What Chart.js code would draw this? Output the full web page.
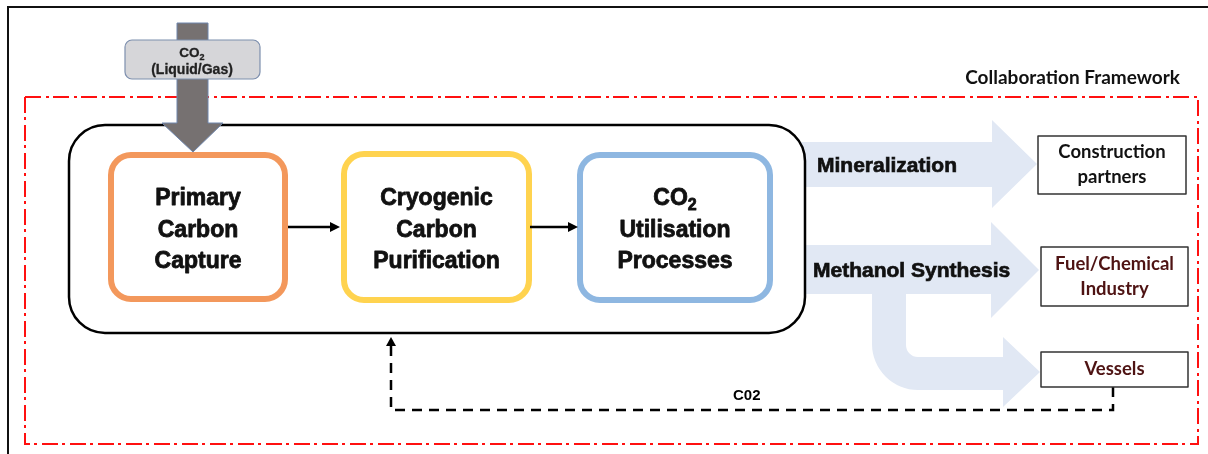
<!DOCTYPE html>
<html>
<head>
<meta charset="utf-8">
<script src="https://cdn.jsdelivr.net/npm/chart.js@4"></script>
<style>
  html, body { margin: 0; padding: 0; background: #fff; }
  #wrap { width: 1208px; height: 454px; }
</style>
</head>
<body>
<div id="wrap"><canvas id="diagram" width="1208" height="454"></canvas></div>
<script>
/* DATOS DEL DIAGRAMA */
const inputLabel = ['CO₂', '(Liquid/Gas)'];
const processSteps = [
  ['Primary', 'Carbon', 'Capture'],
  ['Cryogenic', 'Carbon', 'Purification'],
  ['CO₂', 'Utilisation', 'Processes'],
];
const routes = ['Mineralization', 'Methanol Synthesis'];
const partners = [
  ['Construction', 'partners'],
  ['Fuel/Chemical', 'Industry'],
  ['Vessels'],
];
const frameworkLabel = 'Collaboration Framework';
const returnLabel = 'C02';

/* GEOMETRIA (unidades de los ejes) */
const frameCorners = [[25, 97], [1198, 97], [1198, 444], [25, 444], [25, 97]];
const returnPath = [[1113, 387], [1113, 410], [391, 410], [391, 344]];
const stepBoxes = [[111, 155, 285, 299], [344, 154, 529, 300], [580, 155, 770, 300]];
const partnerBoxes = [[1038, 136, 1186, 194], [1041, 247, 1188, 306], [1041, 352, 1188, 387]];

/* ESTILOS */
const stepColors = ['#F3985C', '#FFD34F', '#8EB7E1'];
const partnerTextColors = ['#111111', '#4E1313', '#4E1313'];
const routeFill = '#E1E8F4';
const BOLD = '"Liberation Sans", Arial, sans-serif';
const CAL = 'Lato, "Open Sans", sans-serif';

/* TEXTO CON SUBINDICE (con trazo extra para simular letra pesada) */
function drawRich(ctx, str, cx, y, size, family, color, heavy = 0) {
  ctx.fillStyle = color;
  ctx.strokeStyle = color;
  ctx.lineWidth = heavy;
  ctx.lineJoin = 'round';
  ctx.textBaseline = 'alphabetic';
  const put = (t, x, yy) => {
    ctx.fillText(t, x, yy);
    if (heavy) ctx.strokeText(t, x, yy);
  };
  const parts = str.split('₂');
  ctx.font = `bold ${size}px ${family}`;
  if (parts.length === 1) {
    ctx.textAlign = 'center';
    put(str, cx, y);
    return;
  }
  ctx.textAlign = 'left';
  const subSize = Math.round(size * 0.68);
  const wBase = ctx.measureText(parts[0]).width;
  ctx.font = `bold ${subSize}px ${family}`;
  const wSub = ctx.measureText('2').width;
  const x = cx - (wBase + wSub) / 2;
  ctx.font = `bold ${size}px ${family}`;
  put(parts[0], x, y);
  ctx.font = `bold ${subSize}px ${family}`;
  put('2', x + wBase, y + size * 0.2);
}

function roundRect(ctx, x0, y0, x1, y1, r) {
  ctx.beginPath();
  ctx.moveTo(x0 + r, y0);
  ctx.arcTo(x1, y0, x1, y1, r);
  ctx.arcTo(x1, y1, x0, y1, r);
  ctx.arcTo(x0, y1, x0, y0, r);
  ctx.arcTo(x0, y0, x1, y0, r);
  ctx.closePath();
}

/* PLUGIN: fondo (marco y flechas de rutas) y elementos del diagrama */
const diagramPlugin = {
  id: 'diagram',
  beforeDatasetsDraw(chart) {
    const { ctx } = chart;
    const X = v => chart.scales.x.getPixelForValue(v);
    const Y = v => chart.scales.y.getPixelForValue(v);
    ctx.save();

    /* Marco exterior */
    ctx.strokeStyle = '#111';
    ctx.lineWidth = 2;
    ctx.beginPath();
    ctx.moveTo(X(8), Y(454));
    ctx.lineTo(X(8), Y(7));
    ctx.lineTo(X(1208), Y(7));
    ctx.stroke();

    /* Flechas de rutas */
    ctx.fillStyle = routeFill;
    [[142, 187, 120, 208, 992, 1037], [245, 294, 222, 318, 991, 1039]].forEach(a => {
      const [sTop, sBot, hTop, hBot, hx, tip] = a;
      ctx.beginPath();
      ctx.moveTo(X(800), Y(sTop));
      ctx.lineTo(X(hx), Y(sTop));
      ctx.lineTo(X(hx), Y(hTop));
      ctx.lineTo(X(tip), Y((hTop + hBot) / 2));
      ctx.lineTo(X(hx), Y(hBot));
      ctx.lineTo(X(hx), Y(sBot));
      ctx.lineTo(X(800), Y(sBot));
      ctx.closePath();
      ctx.fill();
    });

    /* Flecha curva hacia Vessels */
    ctx.beginPath();
    ctx.moveTo(X(872), Y(290));
    ctx.arcTo(X(872), Y(390), X(918), Y(390), 46);
    ctx.lineTo(X(1003), Y(390));
    ctx.lineTo(X(1003), Y(407));
    ctx.lineTo(X(1040), Y(372));
    ctx.lineTo(X(1003), Y(337));
    ctx.lineTo(X(1003), Y(357));
    ctx.arcTo(X(906), Y(357), X(906), Y(345), 12);
    ctx.lineTo(X(906), Y(290));
    ctx.closePath();
    ctx.fill();

    ctx.restore();
  },

  afterDatasetsDraw(chart) {
    const { ctx } = chart;
    const X = v => chart.scales.x.getPixelForValue(v);
    const Y = v => chart.scales.y.getPixelForValue(v);
    ctx.save();

    /* Etiquetas de rutas */
    ctx.textBaseline = 'alphabetic';
    [[routes[0], 817, 172], [routes[1], 813, 277]].forEach(([t, x, y]) => {
      ctx.font = `bold 21px ${BOLD}`;
      ctx.textAlign = 'left';
      ctx.fillStyle = '#111';
      ctx.strokeStyle = '#111';
      ctx.lineWidth = 0.7;
      ctx.fillText(t, X(x), Y(y));
      ctx.strokeText(t, X(x), Y(y));
    });

    /* Contenedor principal */
    roundRect(ctx, X(69), Y(125), X(805), Y(333), 36);
    ctx.fillStyle = '#fff';
    ctx.fill();
    ctx.strokeStyle = '#000';
    ctx.lineWidth = 2.5;
    ctx.stroke();

    /* Cajas de proceso */
    processSteps.forEach((lines, i) => {
      const [x0, y0, x1, y1] = stepBoxes[i];
      roundRect(ctx, X(x0), Y(y0), X(x1), Y(y1), 20);
      ctx.strokeStyle = stepColors[i];
      ctx.lineWidth = 6;
      ctx.stroke();
      const cx = X((x0 + x1) / 2);
      lines.forEach((t, j) => drawRich(ctx, t, cx, Y(205 + j * 31.5), 23, BOLD, '#111', 0.8));
    });

    /* Flechas entre procesos */
    ctx.strokeStyle = '#000';
    ctx.fillStyle = '#000';
    ctx.lineWidth = 2.5;
    [[288, 340], [530, 578]].forEach(([a, b]) => {
      ctx.beginPath();
      ctx.moveTo(X(a), Y(227));
      ctx.lineTo(X(b - 8), Y(227));
      ctx.stroke();
      ctx.beginPath();
      ctx.moveTo(X(b), Y(227));
      ctx.lineTo(X(b - 10), Y(222));
      ctx.lineTo(X(b - 10), Y(232));
      ctx.closePath();
      ctx.fill();
    });

    /* Flecha de entrada de CO2 */
    ctx.beginPath();
    ctx.moveTo(X(177), Y(23));
    ctx.lineTo(X(208), Y(23));
    ctx.lineTo(X(208), Y(123));
    ctx.lineTo(X(223), Y(123));
    ctx.lineTo(X(193), Y(152));
    ctx.lineTo(X(162), Y(123));
    ctx.lineTo(X(177), Y(123));
    ctx.closePath();
    ctx.fillStyle = '#767171';
    ctx.fill();
    ctx.strokeStyle = '#6F86AD';
    ctx.lineWidth = 1;
    ctx.stroke();

    roundRect(ctx, X(125), Y(40), X(260), Y(79), 7);
    ctx.fillStyle = '#D6D6D9';
    ctx.fill();
    ctx.strokeStyle = '#7D8FAE';
    ctx.lineWidth = 1.2;
    ctx.stroke();
    drawRich(ctx, inputLabel[0], X(192), Y(57), 13.5, BOLD, '#222', 0.3);
    drawRich(ctx, inputLabel[1], X(192), Y(74), 14, BOLD, '#222', 0.3);

    /* Cajas de socios */
    partners.forEach((lines, i) => {
      const [x0, y0, x1, y1] = partnerBoxes[i];
      ctx.fillStyle = '#fff';
      ctx.fillRect(X(x0), Y(y0), X(x1) - X(x0), Y(y1) - Y(y0));
      ctx.strokeStyle = '#333';
      ctx.lineWidth = 1.5;
      ctx.strokeRect(X(x0), Y(y0), X(x1) - X(x0), Y(y1) - Y(y0));
      const cx = X((x0 + x1) / 2);
      const cy = (y0 + y1) / 2;
      ctx.font = `bold 18.5px ${CAL}`;
      ctx.fillStyle = partnerTextColors[i];
      ctx.textAlign = 'center';
      ctx.textBaseline = 'middle';
      lines.forEach((t, j) => {
        const off = (j - (lines.length - 1) / 2) * 25;
        ctx.fillText(t, cx, Y(cy + off));
      });
    });

    /* Titulo del marco */
    ctx.font = `bold 19px ${CAL}`;
    ctx.fillStyle = '#111';
    ctx.textAlign = 'right';
    ctx.textBaseline = 'alphabetic';
    ctx.fillText(frameworkLabel, X(1180), Y(84));

    /* Punta de la flecha de retorno y etiqueta */
    ctx.fillStyle = '#000';
    ctx.beginPath();
    ctx.moveTo(X(391), Y(337));
    ctx.lineTo(X(386), Y(346));
    ctx.lineTo(X(396), Y(346));
    ctx.closePath();
    ctx.fill();
    ctx.font = `bold 15px ${BOLD}`;
    ctx.textAlign = 'left';
    ctx.fillText(returnLabel, X(733), Y(400));

    ctx.restore();
  },
};

/* GRAFICO */
new Chart(document.getElementById('diagram'), {
  type: 'scatter',
  data: {
    datasets: [
      {
        label: frameworkLabel,
        data: frameCorners.map(([x, y]) => ({ x, y })),
        showLine: true,
        borderColor: '#FF1010',
        borderWidth: 2,
        borderDash: [16, 5, 3, 4],
        pointRadius: 0,
        tension: 0,
      },
      {
        label: returnLabel,
        data: returnPath.map(([x, y]) => ({ x, y })),
        showLine: true,
        borderColor: '#000',
        borderWidth: 2.5,
        borderDash: [10, 7],
        pointRadius: 0,
        tension: 0,
      },
    ],
  },
  options: {
    responsive: false,
    animation: false,
    events: [],
    layout: { padding: 0 },
    plugins: {
      legend: { display: false },
      tooltip: { enabled: false },
    },
    scales: {
      x: { type: 'linear', min: 0, max: 1208, display: false },
      y: { type: 'linear', min: 0, max: 454, reverse: true, display: false },
    },
  },
  plugins: [diagramPlugin],
});
</script>
</body>
</html>
